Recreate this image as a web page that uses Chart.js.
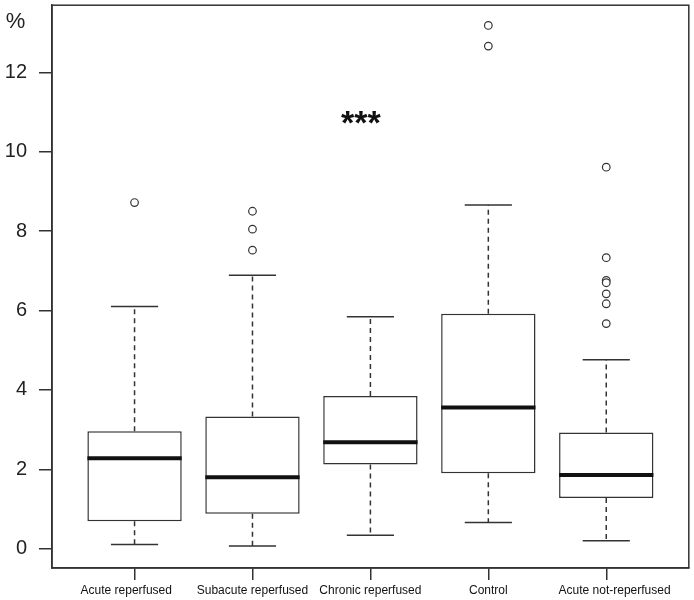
<!DOCTYPE html>
<html>
<head>
<meta charset="utf-8">
<script src="https://cdn.jsdelivr.net/npm/chart.js@4.4.0/dist/chart.umd.min.js"></script>
<style>
  html, body { margin: 0; padding: 0; background: #fff; }
  #wrap { width: 694px; height: 600px; }
</style>
</head>
<body>
<div id="wrap"><canvas id="boxChart"></canvas></div>
<script>
// ---- data ----
const categories = ["Acute reperfused", "Subacute reperfused", "Chronic reperfused", "Control", "Acute not-reperfused"];
const lowerWhisker = [0.11, 0.07, 0.34, 0.66, 0.20];
const q1 = [0.69, 0.88, 2.12, 1.90, 1.28];
const median = [2.28, 1.80, 2.68, 3.56, 1.86];
const q3 = [2.96, 3.33, 3.85, 5.92, 2.93];
const upperWhisker = [6.10, 6.89, 5.84, 8.66, 4.76];
const outliers = [
  [8.72],
  [8.50, 8.05, 7.52],
  [],
  [13.18, 12.66],
  [9.61, 7.33, 6.76, 6.70, 6.42, 6.17, 5.67]
];
const yTicks = [0, 2, 4, 6, 8, 10, 12];
const yUnit = "%";
const signif = { text: "***", x: 2.92, y: 10.85 };

const INK = "#333";
const FONT = "'Liberation Sans', Arial, sans-serif";

// in the original the outer two labels sit a bit off their ticks
const labelText = (i) => {
  if (i === 0) return categories[i] + "     ";
  if (i === categories.length - 1) return "     " + categories[i];
  return categories[i] || "";
};

// boxes as floating bars, outliers as scatter points
const boxData = categories.map((c, i) => ({ x: i + 1, y: [q1[i], q3[i]] }));
const outlierData = [];
outliers.forEach((arr, i) => arr.forEach(v => outlierData.push({ x: i + 1, y: v })));

// whiskers, caps, medians, frame and labels
const boxExtras = {
  id: "boxExtras",
  afterDatasetsDraw(chart) {
    const { ctx, scales: { x, y }, chartArea: a } = chart;
    ctx.save();
    ctx.strokeStyle = INK;
    categories.forEach((c, i) => {
      const cx = x.getPixelForValue(i + 1);
      const capL = x.getPixelForValue(i + 1 - 0.2);
      const capR = x.getPixelForValue(i + 1 + 0.2);
      // dashed whiskers
      ctx.lineWidth = 1.5;
      ctx.setLineDash([5, 4]);
      ctx.beginPath();
      ctx.moveTo(cx, y.getPixelForValue(q3[i]));
      ctx.lineTo(cx, y.getPixelForValue(upperWhisker[i]));
      ctx.moveTo(cx, y.getPixelForValue(q1[i]));
      ctx.lineTo(cx, y.getPixelForValue(lowerWhisker[i]));
      ctx.stroke();
      // caps
      ctx.setLineDash([]);
      ctx.beginPath();
      ctx.moveTo(capL, y.getPixelForValue(upperWhisker[i]));
      ctx.lineTo(capR, y.getPixelForValue(upperWhisker[i]));
      ctx.moveTo(capL, y.getPixelForValue(lowerWhisker[i]));
      ctx.lineTo(capR, y.getPixelForValue(lowerWhisker[i]));
      ctx.stroke();
      // median
      ctx.lineWidth = 4;
      ctx.strokeStyle = "#111";
      ctx.beginPath();
      ctx.moveTo(x.getPixelForValue(i + 1 - 0.4), y.getPixelForValue(median[i]));
      ctx.lineTo(x.getPixelForValue(i + 1 + 0.4), y.getPixelForValue(median[i]));
      ctx.stroke();
      ctx.strokeStyle = INK;
    });
    // frame around plot
    ctx.lineWidth = 1.5;
    ctx.strokeRect(a.left, a.top, a.right - a.left, a.bottom - a.top);
    // significance stars
    ctx.fillStyle = "#111";
    ctx.font = "bold 34px " + FONT;
    ctx.textAlign = "center";
    ctx.textBaseline = "middle";
    ctx.fillText(signif.text, x.getPixelForValue(signif.x), y.getPixelForValue(signif.y) + 7);
    // unit label
    ctx.fillStyle = "#222";
    ctx.font = "22px " + FONT;
    ctx.textAlign = "center";
    ctx.fillText(yUnit, 15.5, 22);
    ctx.restore();
  }
};

new Chart(document.getElementById("boxChart"), {
  type: "bar",
  data: {
    datasets: [
      {
        type: "bar",
        data: boxData,
        backgroundColor: "#fff",
        borderColor: INK,
        borderWidth: 1.5,
        borderSkipped: false,
        barPercentage: 0.8,
        categoryPercentage: 1.0
      },
      {
        type: "scatter",
        data: outlierData,
        pointRadius: 3.8,
        pointBorderWidth: 1.2,
        pointBorderColor: INK,
        pointBackgroundColor: "#fff"
      }
    ]
  },
  plugins: [boxExtras],
  options: {
    responsive: true,
    maintainAspectRatio: false,
    animation: false,
    layout: { padding: { top: 3, right: 2, left: 0, bottom: 0 } },
    plugins: { legend: { display: false }, tooltip: { enabled: false } },
    scales: {
      x: {
        type: "linear",
        min: 0.3,
        max: 5.7,
        offset: false,
        afterBuildTicks: s => { s.ticks = categories.map((c, i) => ({ value: i + 1 })); },
        afterFit: s => { s.height = 32; s.paddingLeft = 0; s.paddingRight = 0; },
        ticks: {
          callback: v => labelText(v - 1),
          color: "#111",
          font: { family: FONT, size: 12 },
          padding: 3,
          maxRotation: 0,
          autoSkip: false
        },
        grid: { drawOnChartArea: false, offset: false, color: INK, tickLength: 12, lineWidth: 1.5 },
        border: { display: true, color: INK, width: 1.5 }
      },
      y: {
        min: -0.485,
        max: 13.69,
        afterBuildTicks: s => { s.ticks = yTicks.map(v => ({ value: v })); },
        afterFit: s => { s.width = 52; s.paddingTop = 0; s.paddingBottom = 0; },
        ticks: {
          color: "#222",
          font: { family: FONT, size: 20 },
          padding: 12
        },
        grid: { drawOnChartArea: false, color: INK, tickLength: 13, lineWidth: 1.5 },
        border: { display: true, color: INK, width: 1.5 }
      }
    }
  }
});
</script>
</body>
</html>
